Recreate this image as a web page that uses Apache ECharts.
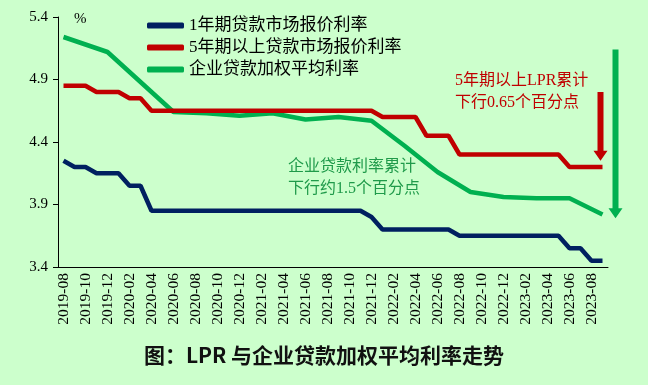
<!DOCTYPE html>
<html><head><meta charset="utf-8">
<script src="https://cdn.jsdelivr.net/npm/echarts@6/dist/echarts.min.js"></script>
<style>html,body{margin:0;padding:0;background:#ccffcc;}#c{width:648px;height:385px;}</style>
</head><body><div id="c"></div>
<script>
var months = ['2019-08','2019-09','2019-10','2019-11','2019-12',
'2020-01','2020-02','2020-03','2020-04','2020-05','2020-06','2020-07','2020-08','2020-09','2020-10','2020-11','2020-12',
'2021-01','2021-02','2021-03','2021-04','2021-05','2021-06','2021-07','2021-08','2021-09','2021-10','2021-11','2021-12',
'2022-01','2022-02','2022-03','2022-04','2022-05','2022-06','2022-07','2022-08','2022-09','2022-10','2022-11','2022-12',
'2023-01','2023-02','2023-03','2023-04','2023-05','2023-06','2023-07','2023-08','2023-09'];
var lpr1y = [4.25,4.20,4.20,4.15,4.15,
4.15,4.05,4.05,3.85,3.85,3.85,3.85,3.85,3.85,3.85,3.85,3.85,
3.85,3.85,3.85,3.85,3.85,3.85,3.85,3.85,3.85,3.85,3.85,3.80,
3.70,3.70,3.70,3.70,3.70,3.70,3.70,3.65,3.65,3.65,3.65,3.65,
3.65,3.65,3.65,3.65,3.65,3.55,3.55,3.45,3.45];
var lpr5y = [4.85,4.85,4.85,4.80,4.80,
4.80,4.75,4.75,4.65,4.65,4.65,4.65,4.65,4.65,4.65,4.65,4.65,
4.65,4.65,4.65,4.65,4.65,4.65,4.65,4.65,4.65,4.65,4.65,4.65,
4.60,4.60,4.60,4.60,4.45,4.45,4.45,4.30,4.30,4.30,4.30,4.30,
4.30,4.30,4.30,4.30,4.30,4.20,4.20,4.20,4.20];
var corpRate = [5.24,null,null,null,5.12,
null,null,null,null,null,4.64,null,null,4.63,null,null,4.61,
null,null,4.63,null,null,4.58,null,null,4.60,null,null,4.57,
null,null,4.37,null,null,4.16,null,null,4.00,null,null,3.96,
null,null,3.95,null,null,3.95,null,null,3.82];
var seriesNames = ['1年期贷款市场报价利率','5年期以上贷款市场报价利率','企业贷款加权平均利率'];
var yTicks = {min:3.4, max:5.4, interval:0.5};
var noteRed = '5年期以上LPR累计\n下行0.65个百分点';
var noteGreen = '企业贷款利率累计\n下行约1.5个百分点';

var serif = "'Liberation Serif','Noto Sans CJK SC',serif";
var chart = echarts.init(document.getElementById('c'));
chart.setOption({
  backgroundColor:'#ccffcc',
  animation:false,
  grid:{left:58,right:40,top:17,bottom:118,containLabel:false},
  legend:{orient:'vertical',left:142,top:12,itemWidth:37,itemHeight:6,itemGap:5,icon:'roundRect',
    textStyle:{fontFamily:serif,fontSize:17,color:'#000',lineHeight:17},
    data:seriesNames},
  xAxis:{type:'category',data:months,boundaryGap:true,
    axisLine:{lineStyle:{color:'#000',width:1}},
    axisTick:{interval:1,length:5,lineStyle:{color:'#000'}},
    axisLabel:{interval:1,rotate:90,fontFamily:serif,fontSize:15.5,color:'#000',margin:6}},
  yAxis:{type:'value',min:yTicks.min,max:yTicks.max,interval:yTicks.interval,
    axisLine:{show:true,lineStyle:{color:'#000',width:1}},
    axisTick:{show:true,length:5,lineStyle:{color:'#000'}},
    splitLine:{show:false},
    axisLabel:{fontFamily:serif,fontSize:15,color:'#000',margin:10,formatter:function(v){return v.toFixed(1);}}},
  series:[
    {name:seriesNames[0],type:'line',data:lpr1y,symbol:'none',lineStyle:{color:'#002060',width:4.5},itemStyle:{color:'#002060'},z:3},
    {name:seriesNames[1],type:'line',data:lpr5y,symbol:'none',lineStyle:{color:'#c00000',width:4.5},itemStyle:{color:'#c00000'},z:2},
    {name:seriesNames[2],type:'line',data:corpRate,connectNulls:true,symbol:'none',lineStyle:{color:'#00b050',width:4.5},itemStyle:{color:'#00b050'},z:1}
  ]
});

function arrow(x, y1, y2, color){
  var sw=3, hw=7, hh=10;
  return {type:'polygon',z:10,shape:{points:[[x-sw,y1],[x+sw,y1],[x+sw,y2-hh],[x+hw,y2-hh],[x,y2],[x-hw,y2-hh],[x-sw,y2-hh]]},style:{fill:color}};
}
var last = months.length-1;
var xr = chart.convertToPixel({xAxisIndex:0},months[last]) - 2;
var yr1 = chart.convertToPixel({yAxisIndex:0},4.80);
var yr2 = chart.convertToPixel({yAxisIndex:0},4.25);
var yg1 = chart.convertToPixel({yAxisIndex:0},5.14);
var yg2 = chart.convertToPixel({yAxisIndex:0},3.79);
chart.setOption({graphic:[
  arrow(xr, yr1, yr2, '#c00000'),
  arrow(xr+15, yg1, yg2, '#00b050'),
  {type:'text',left:74,top:12,style:{text:'%',font:"15px 'Liberation Serif',serif",fill:'#000'}},
  {type:'text',left:455,top:70,style:{text:noteRed,font:"16px 'Liberation Serif','Noto Sans CJK SC',serif",fill:'#c00000',lineHeight:22}},
  {type:'text',left:288,top:156,style:{text:noteGreen,font:"16px 'Liberation Serif','Noto Sans CJK SC',serif",fill:'#1f9a4a',lineHeight:22}},
  {type:'text',left:'center',top:345,style:{text:'图：LPR 与企业贷款加权平均利率走势',font:"bold 21px 'Noto Sans CJK SC',sans-serif",fill:'#111'}}
]});
</script></body></html>
